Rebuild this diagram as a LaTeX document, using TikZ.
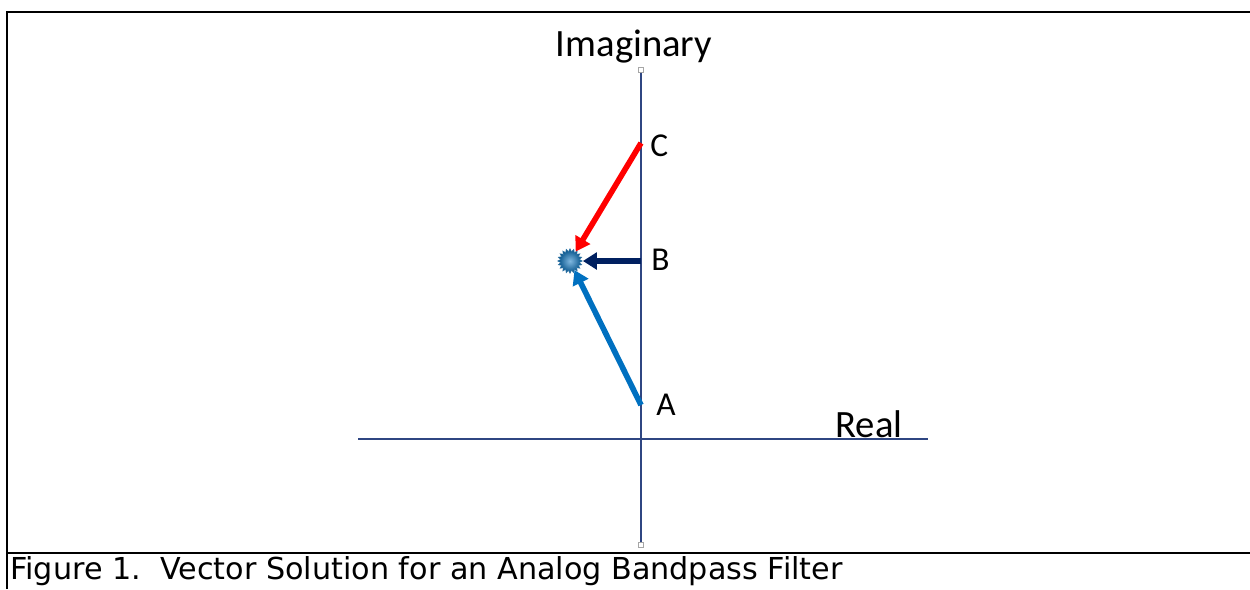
\documentclass[tikz,border=0pt]{standalone}
\usepackage{fontspec}
\setmainfont{Carlito}
\newfontfamily\capfont{DejaVu Sans}
\usetikzlibrary{arrows.meta,shapes.geometric}
\definecolor{axisblue}{RGB}{47,70,130}
\definecolor{vecred}{RGB}{255,0,0}
\definecolor{vecnavy}{RGB}{0,32,96}
\definecolor{vecblue}{RGB}{0,112,192}

\begin{document}
\begin{tikzpicture}[
    x=0.02cm, y=-0.02cm,
    axis/.style={draw=axisblue, line width=1.2pt},
    handle/.style={rectangle, draw=gray!70, fill=white, minimum size=3pt, inner sep=0pt, line width=0.3pt},
    vec/.style={line width=3.2pt, -{Triangle[length=8pt, width=9.5pt]}},
    lbl/.style={font=\fontsize{19}{22}\selectfont, inner sep=0pt},
    axlbl/.style={font=\fontsize{22}{26}\selectfont, inner sep=0pt},
    frame/.style={draw=black, line width=1.4pt}
]
\useasboundingbox (0,0) rectangle (1250,589);

% frame
\draw[frame] (7,589) -- (7,12) -- (350,12);
\draw[draw=black, line width=0.9pt] (350,12) -- (950,12);
\draw[frame] (950,12) -- (1250,12);
\draw[frame] (7,553) -- (1250,553);

% axes
\node[handle] (itop) at (641,70) {};
\node[handle] (ibot) at (641,545) {};
\coordinate (rl) at (358,439);
\coordinate (rr) at (928,439);
\draw[axis] (itop) -- (ibot);
\draw[axis] (rl) -- (rr);

% points on the imaginary axis
\coordinate (c) at (641,143);
\coordinate (b) at (641,261);
\coordinate (a) at (641,405);

% solution point
\node[star, star points=20, star point ratio=1.3, minimum size=14pt, inner sep=0pt,
      draw=vecblue!60!gray, line width=0.3pt, inner color=vecblue!50, outer color=vecblue!70!black] (p) at (570,261) {};

% vectors
\draw[vec, vecred] (c) -- (p);
\draw[vec, vecnavy] (b) -- (p);
\draw[vec, vecblue] (a) -- (p);

% labels
\node[axlbl] (imag) at (634,47) {Imaginary};
\node[axlbl] (real) at (869,424) {Real};
\node[lbl, anchor=west] (lc) at (650,146) {C};
\node[lbl, anchor=west] (lb) at (651,260) {B};
\node[lbl, anchor=west] (la) at (656,405) {A};

% caption
\node[anchor=west, inner sep=0pt, font=\capfont\fontsize{17.2}{20}\selectfont] (cap) at (10,571) {Figure 1.\ \ Vector Solution for an Analog Bandpass Filter};
\end{tikzpicture}
\end{document}
